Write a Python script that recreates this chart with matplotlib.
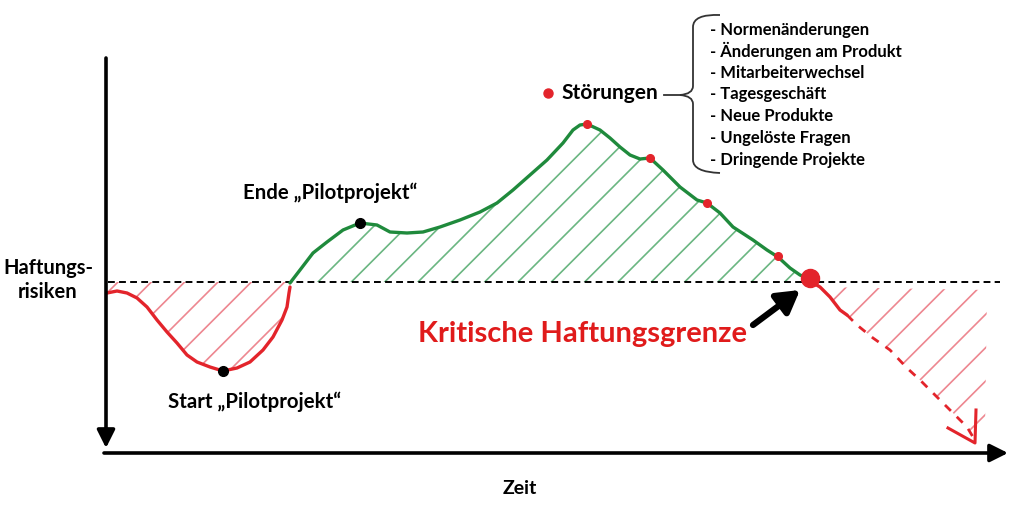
import matplotlib
matplotlib.use("Agg")
import matplotlib.pyplot as plt
from matplotlib.path import Path
from matplotlib.patches import PathPatch

plt.rcParams['font.family'] = ['Lato', 'DejaVu Sans']
plt.rcParams['hatch.linewidth'] = 1.2

# ---- data (time in px-like units, risk relative to the critical threshold) ----
time_start = [107, 117, 127, 137, 147, 157, 167, 177, 187, 197, 210, 223, 237, 250,
              263, 273, 282, 287, 289, 290]
risk_start = [-11, -9, -11, -16, -25, -38, -50, -61, -73, -80, -85, -89, -86, -80,
              -68, -55, -38, -25, -11, -5]

time_up = [290, 300, 313, 327, 343, 360, 377, 390, 407, 423, 440, 460, 480, 497, 513,
           530, 547, 563, 573, 580, 587, 600, 610, 620, 630, 640, 650, 663, 680, 697,
           707, 720, 733, 753, 767, 778, 790, 800, 808]
risk_up = [-1, 12, 29, 40, 52, 59, 57, 50, 49, 50, 55, 62, 70, 79, 92,
           107, 122, 139, 152, 157, 158, 152, 144, 135, 127, 123, 124, 112, 95, 82,
           79, 69, 55, 42, 32, 25, 14, 7, 4]

time_fall = [810, 820, 830, 840, 847]
risk_fall = [1, -5, -15, -28, -33]

time_forecast = [847, 857, 873, 890, 907, 920, 937, 953, 967, 973]
risk_forecast = [-33, -43, -56, -68, -86, -98, -115, -131, -145, -155]

head_time = [948, 975, 976]
head_risk = [-146, -161, -128]

forecast_edge_time = [985, 987]
forecast_edge_risk = [-150, -8]

pilot_time = [223, 360]
pilot_risk = [-89, 59]

disturb_time = [587, 650, 707, 778]
disturb_risk = [158, 124, 79, 26]

critical_time = 810
critical_risk = 4

stoerungen_items = ["- Normenänderungen", "- Änderungen am Produkt", "- Mitarbeiterwechsel",
                    "- Tagesgeschäft", "- Neue Produkte", "- Ungelöste Fragen",
                    "- Dringende Projekte"]
item_risk = [252, 231, 209, 188, 166, 144, 122]

RED = '#e3242b'
GREEN = '#1f8a3c'
HATCH_RED = (0.90, 0.33, 0.38, 0.7)
HATCH_GREEN = (0.22, 0.62, 0.34, 0.75)

fig = plt.figure(figsize=(10.16, 5.09), dpi=100)
ax = fig.add_axes([0, 0, 1, 1])
ax.set_xlim(0, 1016)
ax.set_ylim(-227, 282)
ax.axis('off')

# hatched areas
ax.fill_between(time_start, risk_start, 0, facecolor='none', edgecolor=HATCH_RED,
                hatch='/', linewidth=0)
ax.fill_between(time_up, risk_up, 0, facecolor='none', edgecolor=HATCH_GREEN,
                hatch='/', linewidth=0)
poly_t = time_fall[1:] + time_forecast + forecast_edge_time
poly_r = risk_fall[1:] + risk_forecast + forecast_edge_risk
ax.fill(poly_t, poly_r, facecolor='none', edgecolor=HATCH_RED, hatch='/', linewidth=0)

# threshold line
ax.plot([108, 1000], [0, 0], color='black', lw=1.4, dashes=(3.5, 2.2))

# curves
ax.plot(time_start, risk_start, color=RED, lw=2.4, solid_capstyle='round', solid_joinstyle='round')
ax.plot(time_up, risk_up, color=GREEN, lw=2.4, solid_capstyle='round', solid_joinstyle='round')
ax.plot(time_fall, risk_fall, color=RED, lw=2.4, solid_capstyle='round', solid_joinstyle='round')
ax.plot(time_forecast, risk_forecast, color=RED, lw=2.0, dashes=(3, 3))
ax.plot(head_time, head_risk, color=RED, lw=2.2, solid_joinstyle='round')

# points
ax.plot(pilot_time, pilot_risk, 'o', color='black', ms=7)
ax.plot(disturb_time, disturb_risk, 'o', color=RED, ms=5.5)
ax.plot([critical_time], [critical_risk], 'o', color=RED, ms=13)
ax.plot([548], [189], 'o', color=RED, ms=6.5)

# axes arrows
ax.annotate('', xy=(106, -166), xytext=(106, 224),
            arrowprops=dict(arrowstyle='-|>,head_length=0.6,head_width=0.3', lw=2.6,
                            color='black', mutation_scale=18, shrinkA=0, shrinkB=0))
ax.annotate('', xy=(1008, -171), xytext=(104, -171),
            arrowprops=dict(arrowstyle='-|>,head_length=0.6,head_width=0.3', lw=2.6,
                            color='black', mutation_scale=18, shrinkA=0, shrinkB=0))
# critical arrow
ax.annotate('', xy=(800, -8), xytext=(753, -43),
            arrowprops=dict(arrowstyle='-|>,head_length=0.6,head_width=0.35', lw=4.5,
                            color='black', mutation_scale=22, shrinkA=0, shrinkB=0))

# brace
verts = [(720, 267), (693, 268), (693, 255), (693, 196), (693, 188), (680, 187),
         (693, 186), (693, 178), (693, 122), (693, 110), (720, 109)]
codes = [Path.MOVETO, Path.CURVE3, Path.CURVE3, Path.LINETO, Path.CURVE3, Path.CURVE3,
         Path.CURVE3, Path.CURVE3, Path.LINETO, Path.CURVE3, Path.CURVE3]
ax.add_patch(PathPatch(Path(verts, codes), facecolor='none', edgecolor='#333333', lw=1.3))
ax.plot([664, 680], [187, 187], color='#333333', lw=1.3)

# texts
bold = dict(fontweight='bold', color='black')
ax.text(48, 2, "Haftungs-\nrisiken", ha='center', va='center', fontsize=14.5,
        linespacing=1.3, **bold)
ax.text(520, -206, "Zeit", ha='center', va='center', fontsize=14, **bold)
ax.text(255, -120, "Start \u201ePilotprojekt\u201c", ha='center', va='center', fontsize=14.7, **bold)
ax.text(330, 89, "Ende \u201ePilotprojekt\u201c", ha='center', va='center', fontsize=14.7, **bold)
ax.text(561, 189, "Störungen", ha='left', va='center', fontsize=15, **bold)
ax.text(583, -52, "Kritische Haftungsgrenze", ha='center', va='center', fontsize=21,
        fontweight='bold', color='#e01b1b')
for label, r in zip(stoerungen_items, item_risk):
    ax.text(710, r, label, ha='left', va='center', fontsize=12, **bold)

fig.savefig('out.png', dpi=100)
